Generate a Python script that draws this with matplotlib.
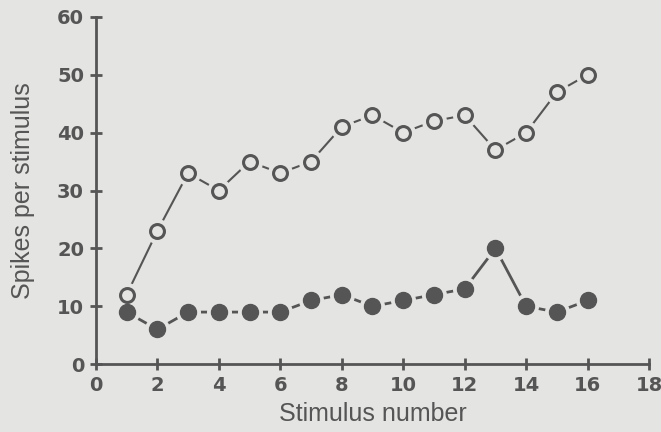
import matplotlib
matplotlib.use("Agg")
import matplotlib.pyplot as plt

stimulus = list(range(1, 17))
open_vals = [12, 23, 33, 30, 35, 33, 35, 41, 43, 40, 42, 43, 37, 40, 47, 50]
filled_vals = [9, 6, 9, 9, 9, 9, 11, 12, 10, 11, 12, 13, 20, 10, 9, 11]
xticks = [0, 2, 4, 6, 8, 10, 12, 14, 16, 18]
yticks = [0, 10, 20, 30, 40, 50, 60]

bg = "#e4e4e2"
ink = "#555555"

fig = plt.figure(figsize=(6.61, 4.32), dpi=100, facecolor=bg)
ax = fig.add_axes([0.145, 0.157, 0.837, 0.804], facecolor=bg)

# lines
ax.plot(stimulus, open_vals, color=ink, lw=1.5, zorder=2)
ax.plot(stimulus, filled_vals, color=ink, lw=2.0, zorder=2)
# halos to create gaps between lines and markers
ax.plot(stimulus, open_vals, ls="none", marker="o", ms=17, mfc=bg, mec=bg, zorder=3)
ax.plot(stimulus, filled_vals, ls="none", marker="o", ms=17, mfc=bg, mec=bg, zorder=3)
# markers
ax.plot(stimulus, open_vals, ls="none", marker="o", ms=10, mfc=bg, mec=ink, mew=2.2, zorder=4)
ax.plot(stimulus, filled_vals, ls="none", marker="o", ms=11.5, mfc=ink, mec=ink, zorder=4)

ax.set_xlim(0, 18)
ax.set_ylim(0, 60)
ax.set_xticks(xticks)
ax.set_yticks(yticks)
for s in ["top", "right"]:
    ax.spines[s].set_visible(False)
for s in ["left", "bottom"]:
    ax.spines[s].set_color(ink)
    ax.spines[s].set_linewidth(2.0)
    ax.spines[s].set_clip_on(False)
ax.tick_params(direction="inout", length=9, width=2.0, color=ink,
               labelcolor=ink, labelsize=14, pad=4)
for lbl in ax.get_xticklabels() + ax.get_yticklabels():
    lbl.set_fontfamily("DejaVu Sans")
    lbl.set_fontweight("bold")
ax.set_xlabel("Stimulus number", fontsize=18, color=ink, family="Liberation Sans", labelpad=5)
ax.set_ylabel("Spikes per stimulus", fontsize=18, color=ink, family="Liberation Sans", labelpad=16)

fig.savefig("out.png", dpi=100, facecolor=bg)
